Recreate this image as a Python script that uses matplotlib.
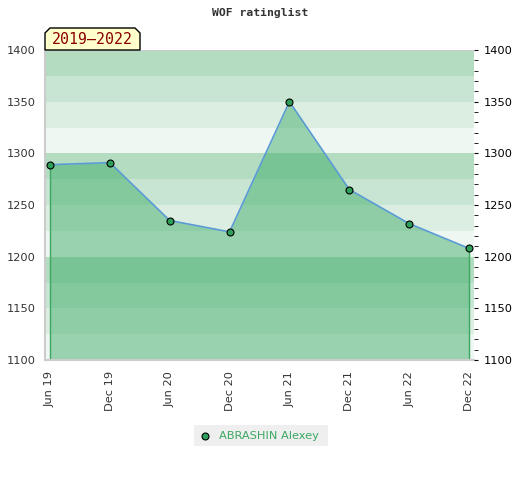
import matplotlib
matplotlib.use("Agg")
import matplotlib.pyplot as plt
import numpy as np
from matplotlib.patches import Polygon, Rectangle
from matplotlib.ticker import MultipleLocator

# data
periods = ["Jun 19", "Dec 19", "Jun 20", "Dec 20", "Jun 21", "Dec 21", "Jun 22", "Dec 22"]
ratings = [1289, 1291, 1235, 1224, 1350, 1265, 1232, 1208]
player = "ABRASHIN Alexey"
title = "WOF ratinglist"
span_label = "2019\u20132022"

ymin, ymax = 1100, 1400
band_colors = ["#eef7f1", "#dbeee1", "#c7e5d2", "#b3dcc1"]

fig = plt.figure(figsize=(5.2, 4.8), dpi=100)
ax = fig.add_axes([45 / 520, 1 - 360 / 480, 429 / 520, 310 / 480])

x = np.arange(len(periods))
pad = 5 / 59.86
ax.set_xlim(-pad, len(periods) - 1 + pad)
ax.set_ylim(ymin, ymax)

# striped background, 25 points per band
for i, lo in enumerate(range(ymin, ymax, 25)):
    ax.axhspan(lo, lo + 25, color=band_colors[i % 4], lw=0, zorder=0)

ax.fill_between(x, ratings, ymin, color="#35a861", alpha=0.46, lw=0, zorder=1)
ax.vlines([x[0], x[-1]], ymin, [ratings[0], ratings[-1]], color="#3aa860", lw=1, zorder=2)
ax.plot(x, ratings, color="#5b9bd5", lw=1.2, zorder=3)
ax.plot(x, ratings, "o", ms=5, mfc="#2e9e5b", mec="black", mew=0.8, zorder=4)

ax.set_xticks(x)
ax.set_xticklabels(periods, rotation=90, fontsize=8.2, color="#333333")
ax.set_yticks(range(ymin, ymax + 1, 50))
ax.tick_params(axis="both", length=0, labelsize=8.2, labelcolor="#333333")
ax.tick_params(axis="x", pad=8)
ax.tick_params(axis="y", pad=6.5)

for side in ["top", "right"]:
    ax.spines[side].set_visible(False)
for side in ["left", "bottom"]:
    ax.spines[side].set_color("#cccccc")
    ax.spines[side].set_linewidth(1.5)
ax.axhline(ymax, color="#cccccc", lw=1.5, zorder=5)

ax2 = ax.twinx()
ax2.set_ylim(ymin, ymax)
ax2.set_yticks(range(ymin, ymax + 1, 50))
ax2.yaxis.set_minor_locator(MultipleLocator(10))
ax2.tick_params(axis="y", which="major", length=3, direction="out", labelsize=8.2, pad=4, color="black")
ax2.tick_params(axis="y", which="minor", length=3, direction="out", color="black")
for side in ["top", "right", "left", "bottom"]:
    ax2.spines[side].set_visible(False)

fig.text(260 / 520, 1 - 13 / 480, title, ha="center", va="center",
         family="DejaVu Sans Mono", fontweight="bold", fontsize=8.2, color="#333333")

# label tab with clipped top corners
bx0, bx1, by0, by1 = 45, 140, 28, 50
pts = [(bx0, by1), (bx0, by0 + 5), (bx0 + 5, by0), (bx1 - 5, by0), (bx1, by0 + 5), (bx1, by1)]
pts = [(px / 520, 1 - py / 480) for px, py in pts]
fig.patches.append(Polygon(pts, closed=True, transform=fig.transFigure,
                           facecolor="#ffffcc", edgecolor="black", lw=1))
fig.text(92 / 520, 1 - 40 / 480, span_label, ha="center", va="center",
         family="DejaVu Sans Mono", fontsize=10.7, color="#8b0000")

# legend box
fig.patches.append(Rectangle((194 / 520, 1 - 446 / 480), 134 / 520, 21 / 480,
                             transform=fig.transFigure, facecolor="#efefef", edgecolor="none"))
fig.lines.append(plt.Line2D([205 / 520], [1 - 436 / 480], transform=fig.transFigure,
                            marker="o", ms=5, mfc="#2e9e5b", mec="black", mew=0.8, ls=""))
fig.text(219 / 520, 1 - 436 / 480, player, ha="left", va="center",
         fontsize=8.2, color="#3aa860")

fig.savefig("out.png", dpi=100)
